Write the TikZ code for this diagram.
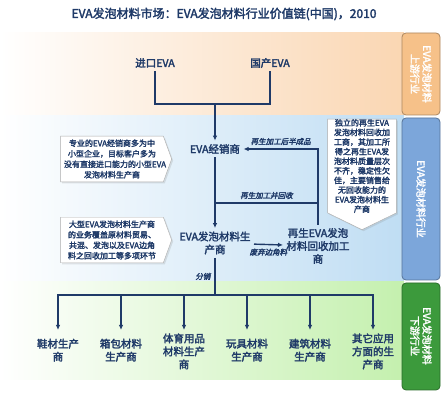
\documentclass[tikz,border=0pt]{standalone}
\usepackage{fontspec}
\setmainfont{Noto Sans CJK SC}[FakeBold=2.5]
\newfontfamily\cjkslant{Noto Sans CJK SC}[FakeSlant=0.2,FakeBold=2.5]
\usetikzlibrary{arrows.meta,shapes.symbols,shadows}
\definecolor{navy}{HTML}{1F3A68}
\definecolor{peachband}{HTML}{FAD6B2}
\definecolor{blueband}{HTML}{BFDDF3}
\definecolor{greenband}{HTML}{C4F0AE}
\definecolor{peachtab}{HTML}{F6C189}
\definecolor{bluetab}{HTML}{7CA6DA}
\definecolor{greentab}{HTML}{3C9A3C}
\begin{document}
\begin{tikzpicture}[x=1pt,y=-1pt,
    actor/.style={text=navy,font=\fontsize{10.5}{13}\selectfont,align=center},
    note/.style={signal,draw=gray!65,fill=white,text=navy,align=center,
        font=\fontsize{8}{10.5}\selectfont,
        drop shadow={opacity=0.2,shadow xshift=1.5pt,shadow yshift=-1.5pt}},
    tag/.style={text=navy,font=\fontsize{7.5}{9}\selectfont\cjkslant},
    tab/.style={rounded corners=4pt,line width=0.8pt},
    tabtext/.style={text=white,rotate=-90,align=center,font=\fontsize{10}{12}\selectfont},
    wire/.style={draw=navy,line width=1.4pt},
    flow/.style={wire,-{Latex[length=5pt,width=4.5pt]}}]
    \useasboundingbox (0,0) rectangle (448,403);
    \shade[left color=white,right color=peachband] (0,33) rectangle (404,116);
    \shade[left color=white,right color=blueband] (0,116) rectangle (404,282);
    \shade[left color=white,right color=greenband] (0,282) rectangle (404,380);
    \draw[tab,fill=peachtab,draw=peachtab!70!black] (402,33) rectangle (440,115);
    \draw[tab,fill=bluetab,draw=bluetab!70!black] (402,118) rectangle (440,280);
    \draw[tab,fill=greentab,draw=greentab!70!black] (402,283) rectangle (440,390);
    \node[tabtext] (uptab) at (421,74) {EVA发泡材料\\上游行业};
    \node[tabtext] (midtab) at (421,199) {EVA发泡材料行业};
    \node[tabtext] (downtab) at (421,336) {EVA发泡材料\\下游行业};
    \node[text=navy,font=\fontsize{12}{14}\selectfont] (title) at (224,14)
        {EVA发泡材料市场：EVA发泡材料行业价值链(中国)，2010};
    \node[actor] (imp) at (155,63) {进口EVA};
    \node[actor] (dom) at (270,63) {国产EVA};
    \coordinate (join) at (215,104);
    \node[actor] (dealer) at (215,149) {EVA经销商};
    \node[actor] (prod) at (215,243) {EVA发泡材料生\\产商};
    \node[actor] (recyc) at (318,246) {再生EVA发泡\\材料回收加工\\商};
    \coordinate (merge) at (215,203);
    \coordinate (hub) at (215,295);
    \node[note,signal to=east,signal pointer angle=140,text width=96pt] (dnote) at (112,159)
        {专业的EVA经销商多为中\\小型企业，目标客户多为\\没有直接进口能力的小型EVA\\发泡材料生产商};
    \node[note,signal to=east,signal pointer angle=140,text width=96pt] (pnote) at (112,240)
        {大型EVA发泡材料生产商\\的业务覆盖原材料贸易、\\共混、发泡以及EVA边角\\料之回收加工等多项环节};
    \node[note,signal to=south,signal pointer angle=128,text width=62pt,inner ysep=0pt,
        font=\fontsize{8}{9.6}\selectfont] (rnote) at (362,166)
        {独立的再生EVA\\发泡材料回收加\\工商，其加工所\\得之再生EVA发\\泡材料质量层次\\不齐，稳定性欠\\佳，主要销售给\\无回收能力的\\EVA发泡材料生\\产商};
    \draw[wire] (imp) |- (join) -| (dom);
    \draw[flow] (join) -- (dealer);
    \draw[flow] (recyc) |- (dealer) node[tag,above,pos=0.75] {再生加工后半成品};
    \draw[wire] (recyc) |- (merge) node[tag,above,pos=0.75] {再生加工并回收};
    \draw[flow] (dealer) -- (prod);
    \draw[flow] (prod) -- (recyc) node[tag,below,midway] {废弃边角料};
    \draw[wire,line width=2.5pt] (prod) -- (hub) node[tag,left,midway] {分销};
    \foreach \i/\x/\t in {1/58/{鞋材生产\\商},2/121/{箱包材料\\生产商},3/184/{体育用品\\材料生产\\商},
        4/247/{玩具材料\\生产商},5/310/{建筑材料\\生产商},6/373/{其它应用\\方面的生\\产商}} {
        \node[actor,minimum height=40pt,anchor=north] (b\i) at (\x,330) {\t};
        \draw[flow] (hub) -| (b\i);
    }
\end{tikzpicture}
\end{document}
